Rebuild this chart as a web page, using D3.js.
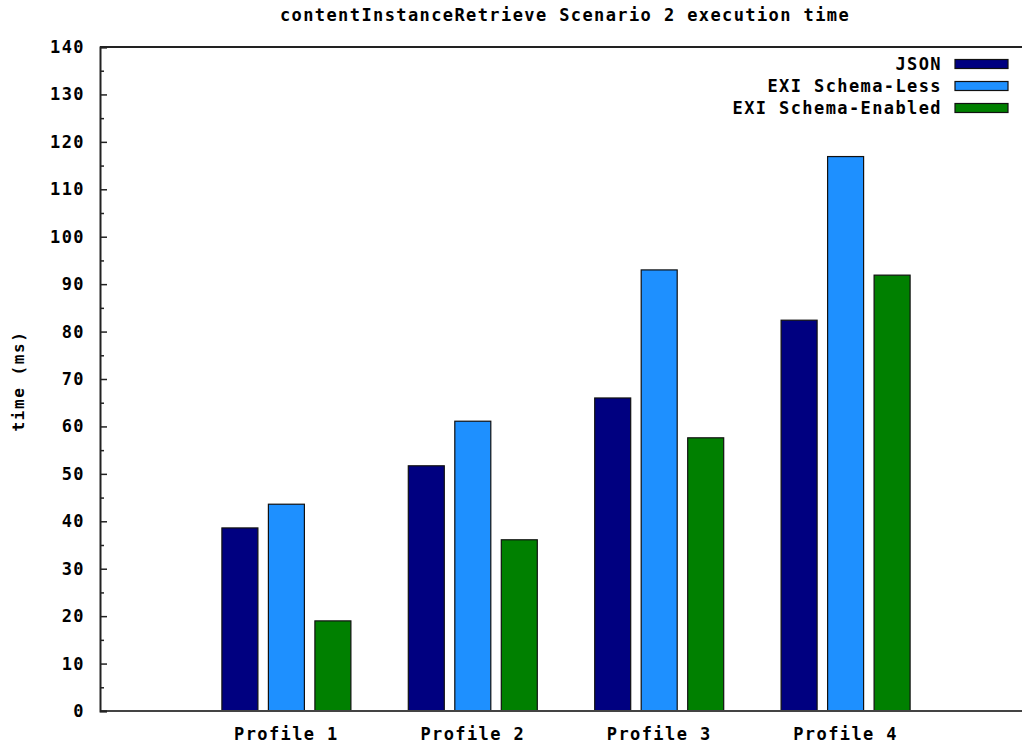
<!DOCTYPE html>
<html>
<head>
<meta charset="utf-8">
<script src="https://cdnjs.cloudflare.com/ajax/libs/d3/7.8.5/d3.min.js"></script>
<style>
  html, body { margin: 0; padding: 0; background: #fff; }
  svg { display: block; }
  text { font-family: "DejaVu Sans Mono", "Liberation Mono", monospace; font-weight: bold; fill: #000; }
</style>
</head>
<body>
<svg id="chart" width="1022" height="746"></svg>
<script>
// Execution time per profile (ms)
const categories = ["Profile 1", "Profile 2", "Profile 3", "Profile 4"];
const seriesNames = ["JSON", "EXI Schema-Less", "EXI Schema-Enabled"];
const seriesColors = ["#000080", "#1e90ff", "#008000"];
const jsonValues = [38.6, 51.7, 66.0, 82.4];
const schemaLessValues = [43.6, 61.1, 93.0, 116.9];
const schemaEnabledValues = [19.0, 36.1, 57.6, 91.9];
const yTicks = [0, 10, 20, 30, 40, 50, 60, 70, 80, 90, 100, 110, 120, 130, 140];
const yMinorTicks = [5, 15, 25, 35, 45, 55, 65, 75, 85, 95, 105, 115, 125, 135];

const series = [jsonValues, schemaLessValues, schemaEnabledValues];

const svg = d3.select("#chart");
const plotLeft = 100, plotTop = 47, plotBottom = 711, plotRight = 1032;
const fontSize = 17, spacing = 1.4;

// category positions 1..4 on a continuous axis from 0 to 5
const x = d3.scaleLinear().domain([0, 5]).range([plotLeft, plotRight]);
const y = d3.scaleLinear().domain([0, 140]).range([plotBottom, plotTop]);
const barW = 36;
const offset = 46.5;

// bars
series.forEach((vals, si) => {
  svg.append("g").selectAll("rect")
    .data(vals)
    .join("rect")
    .attr("x", (d, i) => x(i + 1) + (si - 1) * offset - barW / 2)
    .attr("y", d => y(d))
    .attr("width", barW)
    .attr("height", d => y(0) - y(d))
    .attr("fill", seriesColors[si])
    .attr("stroke", "#111")
    .attr("stroke-width", 1.2);
});

// frame
svg.append("line").attr("x1", plotLeft).attr("x2", 1022).attr("y1", plotTop).attr("y2", plotTop)
  .attr("stroke", "#222").attr("stroke-width", 2);
svg.append("line").attr("x1", plotLeft).attr("x2", 1022).attr("y1", plotBottom).attr("y2", plotBottom)
  .attr("stroke", "#444").attr("stroke-width", 2);

// y axis with inward ticks
const yAxis = d3.axisRight(y).tickValues(yTicks).tickSize(7).tickFormat("");
const gy = svg.append("g").attr("transform", `translate(${plotLeft},0)`).call(yAxis);
gy.select(".domain").attr("stroke", "#222").attr("stroke-width", 2);
gy.selectAll(".tick line").attr("stroke", "#222").attr("stroke-width", 1.5);
const yMinor = d3.axisRight(y).tickValues(yMinorTicks).tickSize(4).tickFormat("");
const gym = svg.append("g").attr("transform", `translate(${plotLeft},0)`).call(yMinor);
gym.select(".domain").remove();
gym.selectAll(".tick line").attr("stroke", "#222").attr("stroke-width", 1.5);

svg.append("g").selectAll("text")
  .data(yTicks)
  .join("text")
  .attr("x", 85)
  .attr("y", d => y(d) + 6)
  .attr("text-anchor", "end")
  .attr("font-size", fontSize)
  .attr("letter-spacing", spacing)
  .text(d => d);

// x category labels
svg.append("g").selectAll("text")
  .data(categories)
  .join("text")
  .attr("x", (d, i) => x(i + 1))
  .attr("y", 740)
  .attr("text-anchor", "middle")
  .attr("font-size", fontSize)
  .attr("letter-spacing", spacing)
  .text(d => d);

// title
svg.append("text")
  .attr("x", 565)
  .attr("y", 21)
  .attr("text-anchor", "middle")
  .attr("font-size", fontSize)
  .attr("letter-spacing", 1.4)
  .text("contentInstanceRetrieve Scenario 2 execution time");

// y axis label
svg.append("text")
  .attr("transform", "translate(24,381) rotate(-90)")
  .attr("text-anchor", "middle")
  .attr("font-size", 16)
  .attr("letter-spacing", 1.6)
  .text("time (ms)");

// legend
const legend = svg.append("g");
seriesNames.forEach((name, i) => {
  const cy = 64 + i * 22;
  legend.append("text")
    .attr("x", 942)
    .attr("y", cy + 6)
    .attr("text-anchor", "end")
    .attr("font-size", fontSize)
    .attr("letter-spacing", spacing)
    .text(name);
  legend.append("rect")
    .attr("x", 955)
    .attr("y", cy - 4.5)
    .attr("width", 53)
    .attr("height", 9)
    .attr("fill", seriesColors[i])
    .attr("stroke", "#111")
    .attr("stroke-width", 1.2);
});
</script>
</body>
</html>
